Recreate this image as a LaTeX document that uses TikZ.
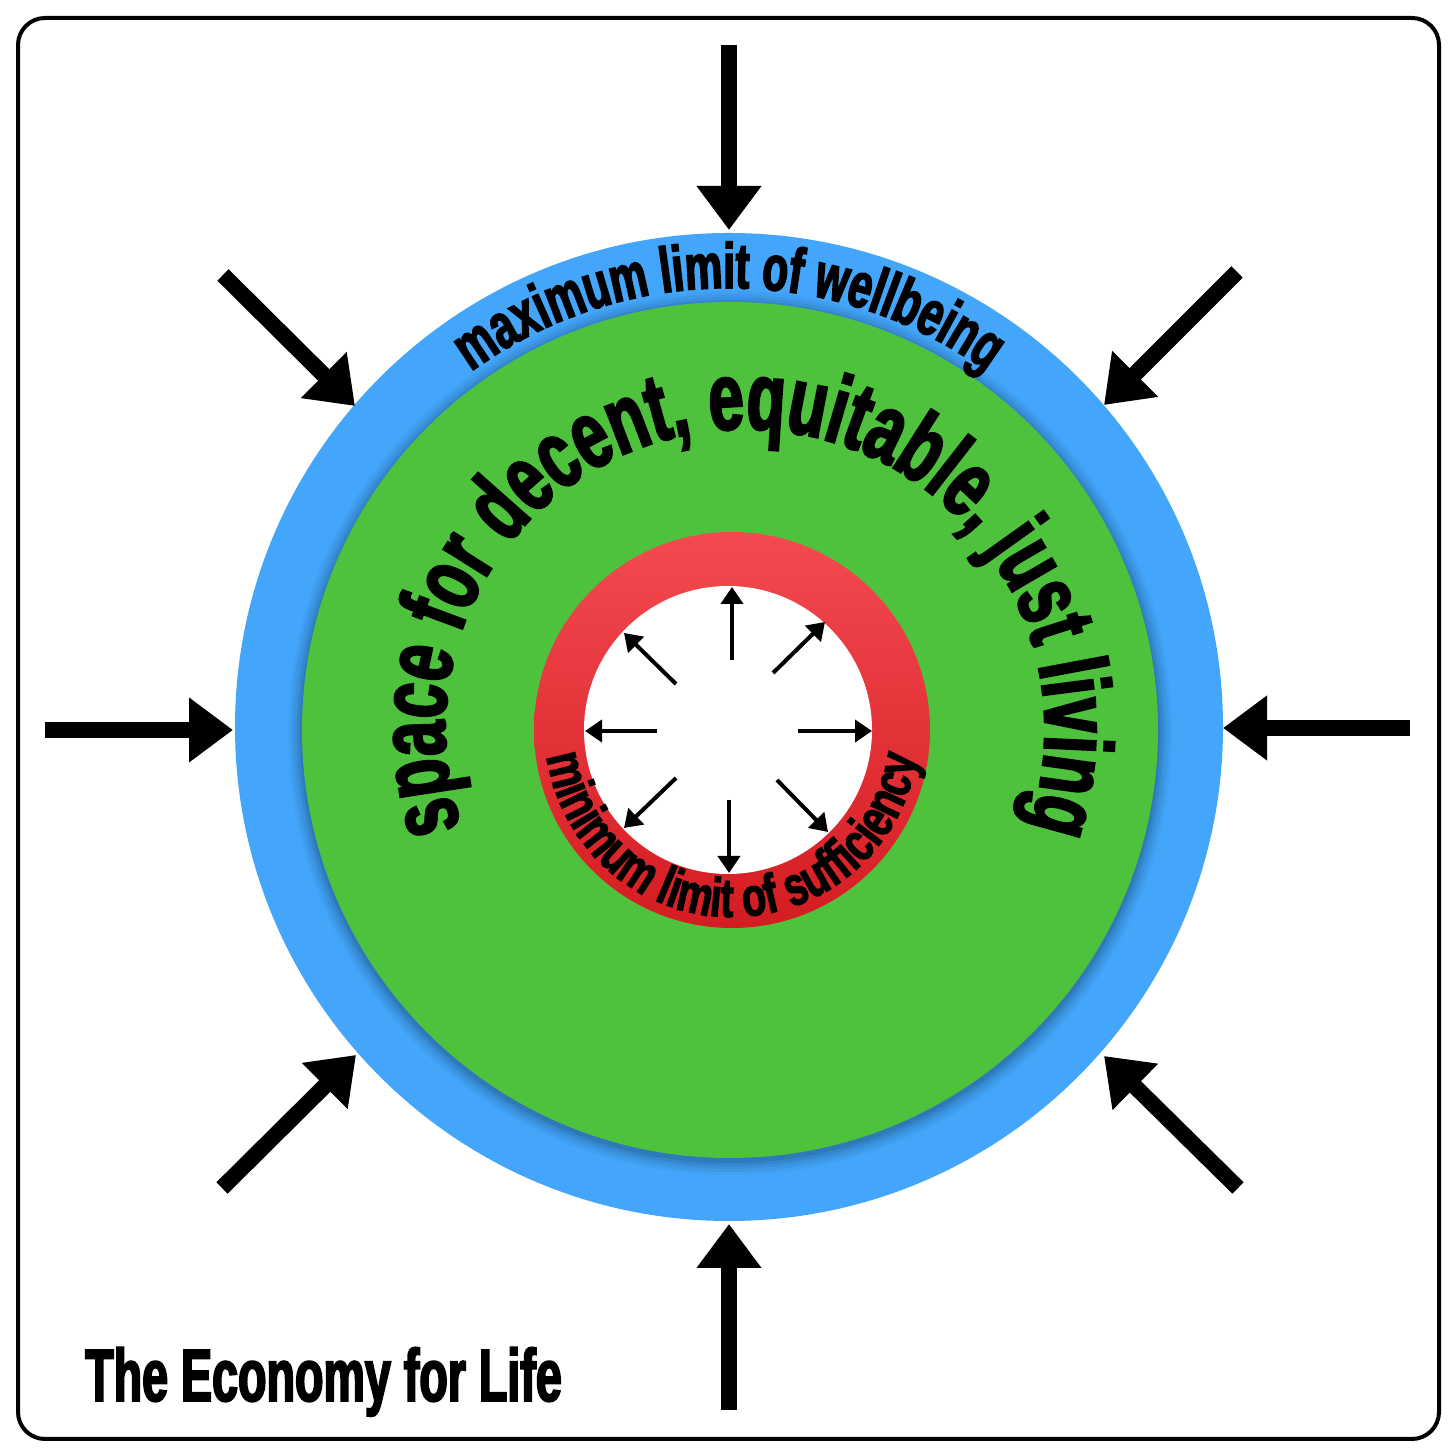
\documentclass[tikz,border=0pt]{standalone}
\usepackage{fontspec}
\usetikzlibrary{arrows.meta,decorations.text,calc}
\newfontfamily\ftitle{Liberation Sans}[FakeStretch=0.63,FakeBold=2.5]
\newfontfamily\ftop{Liberation Sans}[FakeStretch=0.66,FakeBold=2.5]
\newfontfamily\fgreen{Liberation Sans}[FakeStretch=0.657,FakeBold=2.5]
\newfontfamily\fred{Liberation Sans}[FakeStretch=0.72,FakeBold=2]
\definecolor{ringblue}{RGB}{67,166,250}
\definecolor{ringgreen}{RGB}{79,194,61}
\definecolor{redtop}{RGB}{243,74,80}
\definecolor{redbot}{RGB}{212,28,34}
\begin{document}
\begin{tikzpicture}[x=1pt,y=1pt,
  bigarrow/.style={line width=16pt,-{Triangle[length=44pt,width=62pt]}},
  smallarrow/.style={line width=4pt,-{Triangle[length=17pt,width=22pt]}},
  ringtext/.style={decorate,decoration={text along path,text align=center,text={#1}}}]
\useasboundingbox (0,0) rectangle (1456,1456);
\fill[white] (0,0) rectangle (1456,1456);
\draw[line width=4pt,rounded corners=27pt] (18,17) rectangle (1439,1438);
% centres
\coordinate (B) at (729,729);
\coordinate (G) at (730,726);
\coordinate (R) at (732,726);
\coordinate (W) at (728,726);
\coordinate (T) at (745,727);
% discs
\fill[ringblue] (B) circle[radius=494];
\foreach \r/\o in {442/0.03,439/0.04,436/0.05,433/0.07,430/0.09}
  \fill[black,opacity=\o] ($(G)+(0,-3)$) circle[radius=\r];
\fill[ringgreen] (G) circle[radius=428];
\shade[top color=redtop,bottom color=redbot] (R) circle[radius=198];
\fill[white] (W) circle[radius=144];
% texts along arcs
\path[ringtext={|\ftop\bfseries\fontsize{64}{64}\selectfont|maximum limit of wellbeing}]
  ($(B)+(180:439)$) arc[start angle=180,end angle=0,radius=439];
\path[ringtext={|\fgreen\bfseries\fontsize{96}{96}\selectfont|space for decent, equitable, just living}]
  ($(T)+(225:300)$) arc[start angle=225,end angle=-45,radius=300];
\path[ringtext={|\fred\bfseries\fontsize{55}{55}\selectfont|minimum limit of sufficiency}]
  ($(R)+(170:187)$) arc[start angle=170,end angle=370,radius=187];
% outer arrows
\coordinate (oNs) at (729,1411); \coordinate (oNt) at (729,1226);
\coordinate (oSs) at (729,46);   \coordinate (oSt) at (729,232);
\coordinate (oWs) at (45,726);   \coordinate (oWt) at (233,726);
\coordinate (oEs) at (1410,728); \coordinate (oEt) at (1223,728);
\coordinate (oNWs) at (223,1181); \coordinate (oNWt) at (355,1050);
\coordinate (oNEs) at (1237,1184); \coordinate (oNEt) at (1104,1051);
\coordinate (oSWs) at (222,268); \coordinate (oSWt) at (356,401);
\coordinate (oSEs) at (1238,268); \coordinate (oSEt) at (1104,400);
\foreach \d in {N,S,W,E,NW,NE,SW,SE}
  \draw[bigarrow] (o\d s) -- (o\d t);
% inner arrows
\coordinate (iNs) at (732,796); \coordinate (iNt) at (732,869);
\coordinate (iSs) at (729,656); \coordinate (iSt) at (729,583);
\coordinate (iWs) at (657,725); \coordinate (iWt) at (585,725);
\coordinate (iEs) at (798,725); \coordinate (iEt) at (872,725);
\coordinate (iNEs) at (773,783); \coordinate (iNEt) at (825,834);
\coordinate (iNWs) at (676,772); \coordinate (iNWt) at (624,823);
\coordinate (iSWs) at (676,678); \coordinate (iSWt) at (624,628);
\coordinate (iSEs) at (777,676); \coordinate (iSEt) at (828,624);
\foreach \d in {N,S,W,E,NW,NE,SW,SE}
  \draw[smallarrow] (i\d s) -- (i\d t);
% title
\node[anchor=base west,inner sep=0pt,font=\ftitle\bfseries\fontsize{74}{74}\selectfont] (title) at (85,55) {The Economy for Life};
\end{tikzpicture}
\end{document}
